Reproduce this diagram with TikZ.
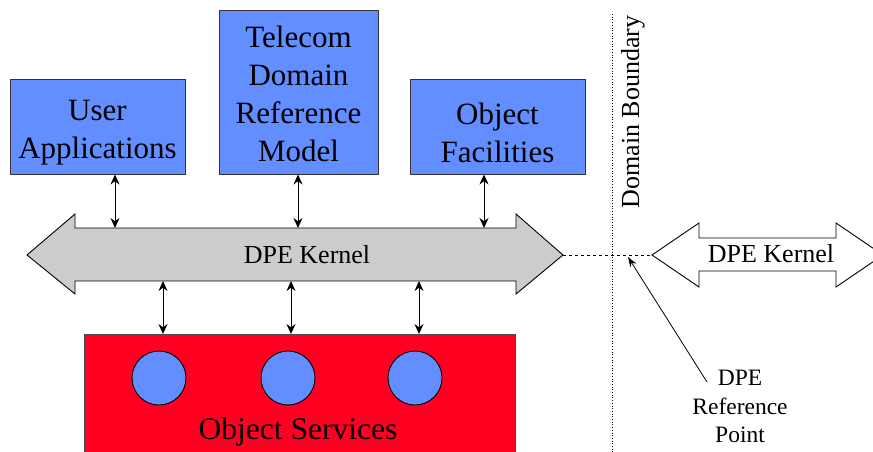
\documentclass[tikz,border=0pt]{standalone}
\usepackage{fontspec}
\setmainfont{Liberation Serif}
\usetikzlibrary{arrows.meta}
\definecolor{boxblue}{RGB}{98,142,255}
\definecolor{osred}{RGB}{255,0,34}
\definecolor{kgray}{RGB}{204,204,204}
\begin{document}
\begin{tikzpicture}[x=1pt,y=-1pt,
  bluebox/.style={draw=black!80,fill=boxblue,line width=0.9pt,inner sep=0pt},
  boxtext/.style={align=center,font=\fontsize{31}{38}\selectfont,inner sep=0pt},
  bi/.style={{Stealth[length=10pt,width=9pt]}-{Stealth[length=10pt,width=9pt]},line width=1pt},
  kernelshape/.style={draw=black,line width=0.9pt},
  svc/.style={circle,draw=black,fill=boxblue,line width=0.9pt,minimum size=54pt,inner sep=0pt},
  bigtext/.style={font=\fontsize{26}{30}\selectfont,inner sep=0pt}]
\useasboundingbox (0,0) rectangle (873,451);

% top boxes
\node[bluebox,minimum width=175pt,minimum height=95pt,
  label={[boxtext,yshift=-6pt]center:User\\Applications}] (ua) at (97.5,126.5) {};
\node[bluebox,minimum width=159pt,minimum height=164pt,
  label={[boxtext,yshift=-2pt]center:Telecom\\Domain\\Reference\\Model}] (tdrm) at (298.5,92) {};
\node[bluebox,minimum width=175pt,minimum height=95pt,
  label={[boxtext,yshift=-6pt]center:Object\\Facilities}] (of) at (497.5,126.5) {};

% DPE kernel (left, grey)
\draw[kernelshape,fill=kgray] (27,255) coordinate (kl) -- (75,214) -- (75,228) -- (516,228) -- (516,214) -- (563,255) coordinate (kr)
  -- (516,294) -- (516,281) -- (75,281) -- (75,294) -- cycle;
\node[bigtext] (kernel) at (307,255) {DPE Kernel};
\coordinate (kt1) at (115,228);
\coordinate (kt2) at (298,228);
\coordinate (kt3) at (484,228);
\coordinate (kb1) at (163,281);
\coordinate (kb2) at (291,281);
\coordinate (kb3) at (419,281);

% object services
\draw[draw=black!70,fill=osred,line width=0.9pt] (84,334) rectangle (515,470);
\coordinate (ostop) at (84,334);
\node[svc] (s1) at (159,378) {};
\node[svc] (s2) at (288,378) {};
\node[svc] (s3) at (415,378) {};
\node[font=\fontsize{31.5}{38}\selectfont,inner sep=0pt,anchor=base] (os) at (298,439) {Object Services};

% connectors
\draw[bi] (ua.south -| kt1) -- (kt1);
\draw[bi] (tdrm.south -| kt2) -- (kt2);
\draw[bi] (of.south -| kt3) -- (kt3);
\draw[bi] (kb1) -- (kb1 |- ostop);
\draw[bi] (kb2) -- (kb2 |- ostop);
\draw[bi] (kb3) -- (kb3 |- ostop);

% domain boundary
\draw[dotted,line width=0.7pt] (612,14) coordinate (dbtop) -- (612,455);
\node[bigtext,rotate=90] (db) at (633,112) {Domain Boundary};

% right DPE kernel
\draw[kernelshape,fill=white] (652,255) coordinate (rl) -- (699,223) -- (699,238) -- (836,238) -- (836,223) -- (883,255)
  -- (836,287) -- (836,271) -- (699,271) -- (699,287) -- cycle;
\node[bigtext] (rkernel) at (771,254) {DPE Kernel};

\draw[dashed,line width=0.9pt] (kr) -- (rl);

% reference point
\node[font=\fontsize{23.5}{28.5}\selectfont,inner sep=0pt,align=center,anchor=north] (drp) at (740,370) {DPE\\Reference\\Point};
\coordinate (refpt) at (628,257);
\draw[-{Stealth[length=10pt,width=7pt]},line width=0.8pt] (707,382) -- (refpt);
\end{tikzpicture}
\end{document}
